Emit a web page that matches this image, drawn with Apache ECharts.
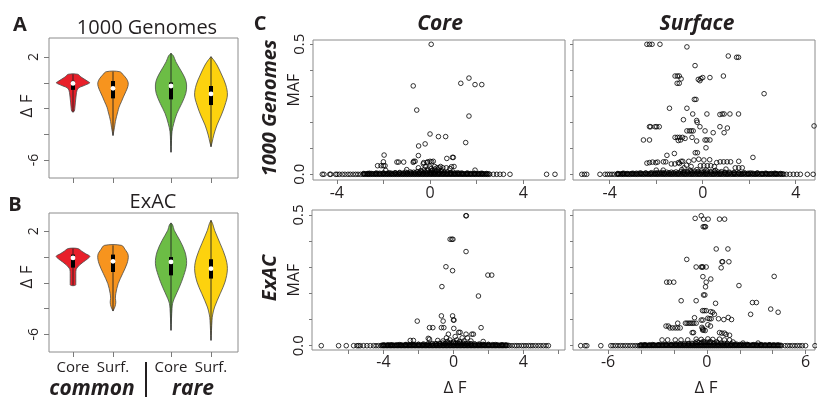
<!DOCTYPE html>
<html><head><meta charset="utf-8">
<script src="https://cdn.jsdelivr.net/npm/echarts@6/dist/echarts.min.js"></script>
<style>html,body{margin:0;padding:0;background:#fff}#c{width:817px;height:397px}</style>
</head><body><div id="c"></div>
<script>
// ---------- Violin data (ΔF value, half-width of density) ----------
const violinCats = ['Core', 'Surf.', 'Core', 'Surf.'];
const aCoreCommon = [[0.66,0.12],[0.45,0.2],[0.25,0.3],[0.05,0.4],[0.0,0.42],[-0.12,0.35],[-0.25,0.25],[-0.4,0.14],[-0.6,0.1],[-0.95,0.08],[-1.5,0.06],[-2.0,0.045],[-2.22,0.03],[-2.28,0]];
const aSurfCommon = [[0.86,0.17],[0.6,0.26],[0.3,0.34],[0.0,0.38],[-0.3,0.37],[-0.69,0.32],[-1.1,0.26],[-1.47,0.21],[-1.9,0.15],[-2.25,0.12],[-2.6,0.09],[-3.0,0.06],[-3.5,0.035],[-4.1,0]];
const aCoreRare = [[2.29,0],[2.1,0.06],[1.64,0.12],[0.99,0.24],[0.35,0.35],[-0.17,0.39],[-0.82,0.37],[-1.6,0.27],[-2.37,0.15],[-3.15,0.07],[-3.8,0.025],[-4.5,0.012],[-5.4,0]];
const aSurfRare = [[2.03,0],[1.8,0.06],[1.38,0.15],[0.6,0.27],[-0.17,0.37],[-0.95,0.41],[-1.73,0.35],[-2.5,0.26],[-3.28,0.15],[-4.06,0.07],[-4.6,0.03],[-4.97,0]];
const bCoreCommon = [[0.66,0.12],[0.45,0.22],[0.25,0.32],[0.06,0.42],[-0.15,0.36],[-0.38,0.26],[-0.6,0.17],[-0.77,0.12],[-0.95,0.08],[-1.3,0.07],[-2.0,0.07],[-2.19,0.06]];
const bSurfCommon = [[0.91,0.21],[0.6,0.3],[0.14,0.38],[-0.51,0.35],[-1.29,0.24],[-2.06,0.13],[-2.84,0.07],[-3.2,0.06],[-3.5,0.07],[-3.85,0.05],[-4.19,0]];
const bCoreRare = [[2.65,0],[2.5,0.04],[2.08,0.08],[1.3,0.22],[0.39,0.35],[-0.51,0.39],[-1.42,0.32],[-2.33,0.21],[-3.23,0.08],[-3.6,0.04],[-4.0,0.025],[-4.8,0.012],[-5.69,0]];
const bSurfRare = [[2.85,0],[2.6,0.04],[2.08,0.09],[1.04,0.23],[0.0,0.36],[-0.9,0.41],[-1.94,0.35],[-2.84,0.23],[-3.88,0.09],[-4.5,0.04],[-4.91,0.025],[-5.7,0.012],[-6.47,0]];
// [lower quartile, median, upper quartile]
const aBoxes = [[-0.55,-0.05,0.15],[-1.21,-0.43,0.14],[-1.29,-0.25,0.03],[-1.73,-0.87,-0.25]];
const bBoxes = [[-0.82,-0.07,0.19],[-1.16,-0.33,0.19],[-1.42,-0.38,0.0],[-1.67,-0.9,-0.17]];

// ---------- Scatter data ----------
// ΔF of variants at MAF = 0
const coreTopZero = [-4.62,-4.55,-4.3,-4.26,-4.05,-3.99,-3.89,-3.76,-3.65,-3.52,-3.42,-3.3,-3.19,-3.09,-2.98,-2.88,-2.8,-2.71,-2.63,-2.55,-2.46,-2.37,-2.29,-2.2,-2.12,-2.03,-1.95,-1.86,-1.78,-1.69,-1.61,-1.52,-1.44,-1.35,-1.27,-1.18,-1.1,-1.01,-0.93,-0.84,-0.76,-0.67,-0.59,-0.5,-0.42,-0.33,-0.25,-0.16,-0.08,0.01,0.09,0.18,0.26,0.35,0.43,0.52,0.6,0.69,0.77,0.86,0.94,1.03,1.11,1.2,1.28,1.37,1.45,1.54,1.62,1.71,1.79,1.88,1.96,2.05,2.13,2.22,2.3,2.39,2.47,2.56,2.72,2.86,3.0,3.15,3.43,5.0,5.36];
const surfTopZero = [-5.2,-5.09,-4.99,-4.42,-4.2,-4.1,-4.0,-3.9,-3.8,-3.69,-3.61,-3.5,-3.41,-3.3,-3.2,-3.11,-3.0,-2.9,-2.81,-2.7,-2.6,-2.51,-2.4,-2.3,-2.21,-2.1,-2.0,-1.91,-1.8,-1.7,-1.61,-1.5,-1.4,-1.31,-1.2,-1.1,-1.01,-0.9,-0.8,-0.71,-0.6,-0.5,-0.41,-0.3,-0.2,-0.11,0.0,0.1,0.19,0.3,0.4,0.49,0.6,0.7,0.79,0.9,1.0,1.09,1.2,1.3,1.39,1.5,1.6,1.69,1.8,1.9,1.99,2.1,2.2,2.29,2.4,2.5,2.59,2.7,2.8,2.89,3.0,3.1,3.19,3.3,3.4,3.49,3.6,3.75,3.9,4.05,4.2,4.5,4.75];
const coreBotZero = [-7.56,-6.57,-6.13,-5.71,-5.52,-5.43,-5.33,-5.14,-4.95,-4.76,-4.57,-4.43,-4.29,-4.15,-4.04,-3.95,-3.84,-3.75,-3.64,-3.55,-3.44,-3.35,-3.24,-3.15,-3.04,-2.95,-2.84,-2.75,-2.64,-2.55,-2.44,-2.35,-2.24,-2.15,-2.04,-1.95,-1.84,-1.75,-1.64,-1.55,-1.44,-1.35,-1.24,-1.15,-1.04,-0.95,-0.84,-0.75,-0.64,-0.55,-0.44,-0.35,-0.24,-0.15,-0.04,0.05,0.16,0.25,0.36,0.45,0.56,0.65,0.76,0.85,0.96,1.05,1.16,1.25,1.36,1.45,1.56,1.65,1.76,1.85,1.96,2.05,2.16,2.25,2.36,2.45,2.56,2.65,2.76,2.85,2.96,3.05,3.2,3.35,3.5,3.62,3.75,3.9,4.02,4.15,4.3,4.42,4.55,4.7,4.85,5.0,5.15,5.3,5.43];
const surfBotZero = [-7.66,-7.4,-7.29,-6.44,-5.83,-5.7,-5.55,-5.4,-5.25,-5.1,-4.95,-4.8,-4.65,-4.5,-4.35,-4.2,-4.1,-3.98,-3.86,-3.74,-3.62,-3.5,-3.38,-3.26,-3.14,-3.02,-2.9,-2.78,-2.66,-2.54,-2.42,-2.3,-2.18,-2.06,-1.94,-1.82,-1.7,-1.58,-1.46,-1.34,-1.22,-1.1,-0.98,-0.86,-0.74,-0.62,-0.5,-0.38,-0.26,-0.14,-0.02,0.1,0.22,0.34,0.46,0.58,0.7,0.82,0.94,1.06,1.18,1.3,1.42,1.54,1.66,1.78,1.9,2.02,2.14,2.26,2.38,2.5,2.62,2.74,2.86,2.98,3.1,3.22,3.34,3.46,3.58,3.7,3.82,3.94,4.06,4.18,4.3,4.42,4.54,4.75,4.9,5.05,5.2,5.35,5.5,5.65,5.8,6.0,6.57];
// ΔF of variants at a tiny MAF (about 0.0015)
const tinyMAF = 0.0015;
const coreTopTiny = [-2.84,-2.75,-2.67,-2.59,-2.5,-2.41,-2.33,-2.24,-2.16,-2.07,-1.99,-1.9,-1.82,-1.73,-1.65,-1.56,-1.48,-1.39,-1.31,-1.22,-1.14,-1.05,-0.97,-0.88,-0.8,-0.71,-0.63,-0.54,-0.46,-0.37,-0.29,-0.2,-0.12,-0.03,0.05,0.14,0.22,0.31,0.39,0.48,0.56,0.65,0.73,0.82,0.9,0.99,1.07,1.16,1.24,1.33,1.41,1.5,1.58,1.67,1.75,1.84,1.92,2.01,2.09,2.18,2.26,2.35,2.43,2.52];
const surfTopTiny = [-3.65,-3.55,-3.45,-3.36,-3.25,-3.15,-3.06,-2.95,-2.85,-2.76,-2.65,-2.55,-2.46,-2.35,-2.25,-2.16,-2.05,-1.95,-1.86,-1.75,-1.65,-1.56,-1.45,-1.35,-1.26,-1.15,-1.05,-0.96,-0.85,-0.75,-0.66,-0.55,-0.45,-0.36,-0.25,-0.15,-0.06,0.05,0.15,0.24,0.35,0.45,0.54,0.65,0.75,0.84,0.95,1.05,1.14,1.25,1.35,1.44,1.55,1.65,1.74,1.85,1.95,2.04,2.15,2.25,2.34,2.45,2.55,2.64,2.75,2.85,2.94,3.05,3.15,3.24,3.35,3.45];
const coreBotTiny = [-4.1,-3.99,-3.9,-3.79,-3.7,-3.59,-3.5,-3.39,-3.3,-3.19,-3.1,-2.99,-2.9,-2.79,-2.7,-2.59,-2.5,-2.39,-2.3,-2.19,-2.1,-1.99,-1.9,-1.79,-1.7,-1.59,-1.5,-1.39,-1.3,-1.19,-1.1,-0.99,-0.9,-0.79,-0.7,-0.59,-0.5,-0.39,-0.3,-0.19,-0.1,0.0,0.1,0.21,0.3,0.41,0.5,0.61,0.7,0.81,0.9,1.01,1.1,1.21,1.3,1.41,1.5,1.61,1.7,1.81,1.9,2.01,2.1,2.21,2.3,2.41,2.5,2.61,2.7,2.81,2.9,3.0,3.12];
const surfBotTiny = [-4.04,-3.92,-3.8,-3.68,-3.56,-3.44,-3.32,-3.2,-3.08,-2.96,-2.84,-2.72,-2.6,-2.48,-2.36,-2.24,-2.12,-2.0,-1.88,-1.76,-1.64,-1.52,-1.4,-1.28,-1.16,-1.04,-0.92,-0.8,-0.68,-0.56,-0.44,-0.32,-0.2,-0.08,0.04,0.16,0.28,0.4,0.52,0.64,0.76,0.88,1.0,1.12,1.24,1.36,1.48,1.6,1.72,1.84,1.96,2.08,2.2,2.32,2.44,2.56,2.68,2.8,2.92,3.04,3.16,3.28,3.4,3.52,3.64,3.76,3.88,4.0,4.12,4.24,4.36,4.48];
// [ΔF, MAF] of low-frequency variants
const coreTopLow = [[-2.84,0.003],[-2.67,0.003],[-2.5,0.003],[-2.33,0.003],[-2.16,0.004],[-1.99,0.004],[-1.82,0.004],[-1.65,0.004],[-1.48,0.005],[-1.31,0.005],[-1.14,0.005],[-0.97,0.006],[-0.8,0.006],[-0.63,0.006],[-0.46,0.006],[-0.29,0.006],[-0.12,0.006],[0.05,0.005],[0.22,0.006],[0.39,0.005],[0.56,0.005],[0.73,0.004],[0.9,0.004],[1.07,0.004],[1.24,0.004],[1.41,0.003],[1.58,0.003],[1.75,0.003],[1.92,0.003],[2.09,0.003],[2.26,0.003],[2.43,0.003],[-2.6,0.004],[-2.3,0.005],[-2.0,0.005],[-1.75,0.006],[-1.5,0.006],[-1.3,0.007],[-1.05,0.008],[-0.85,0.009],[-0.7,0.008],[-0.55,0.01],[-0.45,0.007],[-0.35,0.011],[-0.2,0.009],[-0.12,0.013],[0.0,0.008],[0.08,0.012],[0.15,0.006],[0.25,0.011],[0.4,0.008],[0.48,0.01],[0.62,0.007],[0.75,0.009],[0.88,0.006],[1.0,0.008],[1.18,0.006],[1.35,0.005],[1.6,0.005],[1.9,0.004],[2.2,0.004]];
const surfTopLow = [[-3.65,0.003],[-3.45,0.003],[-3.25,0.003],[-3.05,0.003],[-2.85,0.004],[-2.65,0.004],[-2.45,0.004],[-2.25,0.004],[-2.05,0.005],[-1.85,0.005],[-1.65,0.005],[-1.45,0.006],[-1.25,0.006],[-1.05,0.006],[-0.85,0.007],[-0.65,0.007],[-0.45,0.007],[-0.25,0.007],[-0.05,0.007],[0.15,0.007],[0.35,0.007],[0.55,0.006],[0.75,0.006],[0.95,0.006],[1.15,0.005],[1.35,0.005],[1.55,0.005],[1.75,0.004],[1.95,0.004],[2.15,0.004],[2.35,0.004],[2.55,0.003],[2.75,0.003],[2.95,0.003],[3.15,0.003],[3.35,0.003],[-3.4,0.004],[-3.0,0.004],[-2.7,0.005],[-2.45,0.005],[-2.2,0.006],[-1.95,0.006],[-1.75,0.007],[-1.55,0.008],[-1.35,0.008],[-1.15,0.009],[-0.95,0.01],[-0.8,0.009],[-0.65,0.011],[-0.5,0.01],[-0.35,0.012],[-0.2,0.011],[-0.05,0.013],[0.05,0.009],[0.2,0.012],[0.35,0.01],[0.5,0.011],[0.65,0.009],[0.8,0.01],[0.95,0.008],[1.15,0.008],[1.35,0.007],[1.55,0.006],[1.8,0.006],[2.05,0.005],[2.35,0.005],[2.7,0.004],[3.1,0.004]];
const coreBotLow = [[-4.0,0.003],[-3.75,0.003],[-3.5,0.003],[-3.25,0.003],[-3.0,0.003],[-2.75,0.004],[-2.5,0.004],[-2.25,0.004],[-2.0,0.005],[-1.75,0.005],[-1.5,0.005],[-1.25,0.006],[-1.0,0.006],[-0.75,0.007],[-0.5,0.007],[-0.25,0.007],[0.0,0.007],[0.25,0.007],[0.5,0.007],[0.75,0.006],[1.0,0.006],[1.25,0.005],[1.5,0.005],[1.75,0.004],[2.0,0.004],[2.25,0.004],[2.5,0.003],[2.75,0.003],[3.0,0.003],[-3.6,0.003],[-3.1,0.004],[-2.7,0.004],[-2.3,0.005],[-2.0,0.005],[-1.7,0.006],[-1.45,0.007],[-1.2,0.008],[-1.0,0.008],[-0.8,0.009],[-0.6,0.01],[-0.45,0.009],[-0.3,0.011],[-0.15,0.01],[0.0,0.012],[0.12,0.009],[0.25,0.011],[0.4,0.009],[0.55,0.01],[0.7,0.008],[0.85,0.009],[1.0,0.007],[1.2,0.007],[1.45,0.006],[1.7,0.005],[2.0,0.005],[2.4,0.004],[2.8,0.003]];
const surfBotLow = [[-4.0,0.003],[-3.74,0.003],[-3.48,0.003],[-3.22,0.003],[-2.96,0.003],[-2.7,0.004],[-2.44,0.004],[-2.18,0.004],[-1.92,0.005],[-1.66,0.005],[-1.4,0.005],[-1.14,0.006],[-0.88,0.006],[-0.62,0.007],[-0.36,0.007],[-0.1,0.007],[0.16,0.007],[0.42,0.007],[0.68,0.006],[0.94,0.006],[1.2,0.005],[1.46,0.005],[1.72,0.005],[1.98,0.004],[2.24,0.004],[2.5,0.004],[2.76,0.003],[3.02,0.003],[3.28,0.003],[3.54,0.003],[3.8,0.003],[4.06,0.003],[4.32,0.003],[-3.8,0.003],[-3.3,0.004],[-2.9,0.004],[-2.5,0.005],[-2.15,0.005],[-1.85,0.006],[-1.6,0.007],[-1.35,0.008],[-1.1,0.008],[-0.9,0.009],[-0.7,0.01],[-0.5,0.011],[-0.32,0.012],[-0.15,0.011],[0.0,0.013],[0.15,0.011],[0.3,0.012],[0.48,0.01],[0.65,0.011],[0.85,0.009],[1.05,0.009],[1.25,0.008],[1.5,0.007],[1.8,0.006],[2.1,0.005],[2.45,0.005],[2.85,0.004],[3.3,0.004],[3.8,0.003]];
// [ΔF, MAF] of variants above the band
const coreTopPts = [[0.05,0.5],[-0.72,0.34],[1.32,0.35],[1.67,0.37],[1.93,0.345],[2.22,0.345],[-0.57,0.247],[1.67,0.224],[0.0,0.155],[0.36,0.145],[0.67,0.145],[-0.21,0.117],[-0.49,0.109],[1.53,0.122],[-1.97,0.074],[-0.5,0.072],[-2.0,0.048],[-2.25,0.033],[-2.1,0.033],[-2.0,0.033],[-1.93,0.033],[-1.42,0.047],[-1.35,0.047],[-1.13,0.047],[-0.7,0.05],[-0.64,0.05],[-0.72,0.046],[-0.27,0.045],[-0.13,0.045],[0.0,0.05],[0.14,0.05],[-0.1,0.048],[0.07,0.048],[0.72,0.061],[1.0,0.065],[0.96,0.065],[1.03,0.03],[0.92,0.029],[-0.29,0.04],[0.4,0.025],[0.55,0.025],[0.7,0.025],[1.93,0.016],[-0.2,0.03],[0.0,0.028],[0.2,0.03],[0.3,0.025],[0.45,0.03],[0.85,0.022],[-0.5,0.025],[-1.0,0.018],[-1.9,0.015],[-0.4,0.014],[-0.25,0.018],[-0.1,0.02],[0.05,0.022],[0.2,0.02],[0.35,0.016],[0.5,0.014],[0.1,0.016]];
const surfTopPts = [[-2.4,0.5],[-2.29,0.5],[-2.18,0.5],[-1.84,0.5],[-0.68,0.49],[1.1,0.455],[1.46,0.45],[1.54,0.45],[-0.33,0.418],[-1.19,0.378],[-1.09,0.378],[-1.01,0.378],[-1.1,0.35],[-1.01,0.35],[-0.93,0.367],[-0.19,0.365],[-0.08,0.368],[0.0,0.372],[-0.12,0.36],[0.31,0.372],[0.89,0.378],[-0.36,0.288],[-0.29,0.288],[2.64,0.31],[-1.43,0.254],[-0.68,0.254],[-0.43,0.232],[0.18,0.232],[0.74,0.23],[0.84,0.232],[0.92,0.232],[1.17,0.232],[1.54,0.232],[-0.83,0.21],[-0.26,0.207],[-0.24,0.2],[-2.29,0.183],[-2.24,0.183],[-2.05,0.183],[-1.98,0.183],[-1.87,0.183],[-0.12,0.183],[0.74,0.183],[1.06,0.178],[4.79,0.186],[-0.68,0.167],[-0.57,0.167],[-0.49,0.167],[-0.41,0.167],[-1.19,0.142],[-1.09,0.142],[-0.99,0.142],[-0.87,0.142],[-0.76,0.138],[-1.05,0.13],[-0.95,0.132],[-0.46,0.142],[0.1,0.167],[0.45,0.16],[0.92,0.16],[-2.55,0.132],[-2.29,0.132],[-0.26,0.128],[0.1,0.132],[0.18,0.132],[0.31,0.132],[-0.32,0.083],[-0.23,0.083],[0.14,0.102],[-1.54,0.073],[-1.22,0.08],[2.16,0.065],[-2.4,0.043],[-2.29,0.045],[-2.16,0.047],[-2.02,0.045],[-1.94,0.047],[-1.69,0.048],[-1.59,0.048],[-0.93,0.05],[-0.86,0.05],[-0.6,0.05],[-0.38,0.055],[-0.17,0.058],[0.05,0.055],[0.3,0.056],[-0.1,0.033],[0.05,0.033],[0.2,0.033],[0.35,0.033],[0.6,0.045],[0.75,0.048],[0.9,0.048],[1.05,0.048],[1.2,0.048],[1.55,0.05],[1.4,0.025],[1.55,0.025],[1.7,0.025],[-2.0,0.016],[-1.7,0.016],[-0.9,0.018],[-1.2,0.04],[-1.35,0.04],[-0.7,0.035],[-0.5,0.03],[0.5,0.03],[1.0,0.02],[-0.8,0.025],[-1.05,0.045],[-1.0,0.042],[-0.25,0.018],[0.15,0.016],[0.55,0.015],[-0.55,0.016]];
const coreBotPts = [[0.71,0.497],[0.74,0.497],[-0.19,0.407],[-0.09,0.407],[-0.03,0.407],[0.72,0.36],[-0.43,0.302],[-0.05,0.287],[1.97,0.27],[2.19,0.27],[-0.66,0.226],[1.43,0.19],[-0.69,0.114],[-0.05,0.114],[-0.59,0.094],[0.0,0.098],[0.03,0.098],[-2.07,0.094],[-1.37,0.069],[-1.18,0.069],[-0.69,0.069],[-0.55,0.069],[1.58,0.069],[0.02,0.066],[-0.29,0.044],[0.3,0.051],[0.38,0.051],[0.72,0.044],[1.05,0.044],[1.14,0.044],[-1.44,0.028],[-1.37,0.025],[-2.47,0.02],[-2.29,0.02],[-0.9,0.02],[-0.6,0.018],[-0.2,0.022],[0.2,0.022],[0.6,0.018],[1.0,0.018],[1.7,0.016],[-0.4,0.03],[0.1,0.035],[0.5,0.03],[0.8,0.03],[0.0,0.015],[-0.35,0.016],[0.35,0.016]];
const surfBotPts = [[-0.34,0.497],[-0.71,0.487],[-0.2,0.484],[0.08,0.484],[0.77,0.484],[1.08,0.484],[-0.22,0.455],[-0.14,0.455],[-0.08,0.455],[0.57,0.37],[1.28,0.37],[-1.22,0.33],[0.92,0.321],[0.96,0.321],[1.34,0.321],[-0.65,0.301],[-0.34,0.301],[-0.28,0.301],[-0.24,0.301],[-0.04,0.301],[0.87,0.298],[-0.24,0.264],[0.24,0.255],[-0.04,0.243],[-2.44,0.243],[-2.27,0.243],[-2.01,0.243],[1.95,0.23],[-0.08,0.225],[-0.2,0.194],[-0.12,0.194],[-1.56,0.172],[-0.65,0.172],[0.53,0.162],[2.77,0.165],[3.01,0.165],[3.88,0.14],[4.33,0.128],[4.09,0.265],[2.66,0.12],[-0.26,0.134],[-0.16,0.134],[-0.04,0.134],[0.24,0.13],[0.36,0.128],[-0.75,0.107],[-0.34,0.098],[-0.24,0.098],[0.06,0.105],[0.16,0.103],[0.26,0.103],[0.71,0.103],[1.03,0.1],[1.3,0.108],[1.5,0.1],[0.46,0.12],[-1.77,0.086],[-1.3,0.086],[-1.2,0.086],[-1.09,0.086],[-0.99,0.086],[-0.89,0.086],[-0.79,0.086],[-0.65,0.086],[-2.48,0.075],[-2.34,0.075],[-2.24,0.068],[-2.08,0.068],[-1.92,0.068],[-1.77,0.068],[-1.62,0.068],[0.06,0.08],[0.22,0.075],[0.77,0.05],[0.91,0.048],[1.07,0.048],[1.17,0.043],[1.38,0.04],[-0.89,0.05],[-0.81,0.05],[-0.26,0.06],[-0.2,0.06],[-0.1,0.058],[-2.72,0.022],[-2.38,0.022],[-1.92,0.022],[-1.57,0.022],[-1.16,0.022],[-0.65,0.025],[-0.34,0.024],[0.06,0.026],[0.36,0.024],[0.77,0.025],[1.07,0.022],[1.38,0.022],[1.59,0.014],[2.2,0.01],[3.11,0.01],[-0.3,0.07],[-0.25,0.065],[-0.2,0.016],[0.2,0.016],[0.6,0.015],[-0.6,0.015]];

// ---------- Chart ----------
const FONT = '"Open Sans", "Noto Sans", sans-serif';
const TXT = '#231f20';
const chart = echarts.init(document.getElementById('c'));
const violinPos = [1, 2, 3.45, 4.45];
const violinFill = ['#e8202a', '#f7941e', '#6cbd45', '#fdd20e'];

function violinSeries(gi, profiles, boxes) {
  return {
    type: 'custom', xAxisIndex: gi, yAxisIndex: gi, silent: true,
    data: profiles.map((p, i) => [violinPos[i], i, 0]),
    encode: { x: 0, y: 2 },
    renderItem: function (params, api) {
      const pos = api.value(0), i = api.value(1);
      const prof = profiles[i], box = boxes[i];
      const right = prof.map(d => api.coord([pos + d[1], d[0]]));
      const left = prof.slice().reverse().map(d => api.coord([pos - d[1], d[0]]));
      const top = api.coord([pos, prof[0][0]]);
      const bot = api.coord([pos, prof[prof.length - 1][0]]);
      const q1 = api.coord([pos, box[0]]), med = api.coord([pos, box[1]]), q3 = api.coord([pos, box[2]]);
      return {
        type: 'group', children: [
          { type: 'polygon', shape: { points: right.concat(left), smooth: 0.35 },
            style: { fill: violinFill[i], stroke: '#4a4a4a', lineWidth: 0.8 } },
          { type: 'line', shape: { x1: top[0], y1: top[1], x2: bot[0], y2: bot[1] },
            style: { stroke: '#222', lineWidth: 0.9 } },
          { type: 'rect', shape: { x: q3[0] - 2, y: q3[1], width: 4, height: q1[1] - q3[1] },
            style: { fill: '#000' } },
          { type: 'circle', shape: { cx: med[0], cy: med[1], r: 2.4 }, style: { fill: '#fff' } }
        ]
      };
    }
  };
}

function scatterSeries(gi, zeros, tiny, low, pts) {
  return {
    type: 'scatter', xAxisIndex: gi, yAxisIndex: gi, silent: true, clip: false,
    symbol: 'circle', symbolSize: 4.6,
    itemStyle: { color: 'rgba(255,255,255,0)', borderColor: '#000', borderWidth: 1 },
    data: zeros.map(x => [x, 0]).concat(tiny.map(x => [x, tinyMAF]), low, pts)
  };
}

const gridBase = { show: true, borderColor: '#8c8c8c', borderWidth: 1, backgroundColor: 'transparent' };
const grids = [
  Object.assign({ left: 49, top: 38, width: 189, height: 140 }, gridBase),
  Object.assign({ left: 49, top: 213, width: 189, height: 139 }, gridBase),
  Object.assign({ left: 313, top: 40, width: 252, height: 140 }, gridBase),
  Object.assign({ left: 573, top: 40, width: 242, height: 140 }, gridBase),
  Object.assign({ left: 312, top: 210, width: 253, height: 140 }, gridBase),
  Object.assign({ left: 573, top: 210, width: 242, height: 140 }, gridBase)
];

const tickStyle = { color: '#7a7a7a', width: 1 };
function xAx(gi, min, max, ticks, labels, margin, fmt, fs, tlen) {
  return {
    gridIndex: gi, type: 'value', min: min, max: max, position: 'bottom',
    axisLine: { show: false, onZero: false }, splitLine: { show: false },
    axisTick: { show: true, customValues: ticks, length: tlen, lineStyle: tickStyle },
    axisLabel: labels ? { show: true, customValues: labels, margin: margin, formatter: fmt,
      fontFamily: FONT, fontSize: fs, color: TXT } : { show: false }
  };
}
function yAx(gi, min, max, ticks, labels, margin, fmt, fs, tlen) {
  return {
    gridIndex: gi, type: 'value', min: min, max: max, position: 'left',
    axisLine: { show: false, onZero: false }, splitLine: { show: false },
    axisTick: { show: true, customValues: ticks, length: tlen, lineStyle: tickStyle },
    axisLabel: labels ? { show: true, customValues: labels, margin: margin, formatter: fmt, rotate: 90,
      fontFamily: FONT, fontSize: fs, color: TXT } : { show: false }
  };
}
const catFmt = v => { const k = violinPos.findIndex(p => Math.abs(p - v) < 1e-6); return k >= 0 ? violinCats[k] : ''; };
const intFmt = v => String(Math.round(v));
const decFmt = v => v.toFixed(1);
const mafTicks = [0, 0.1, 0.2, 0.3, 0.4, 0.5];

const xAxes = [
  xAx(0, 0.4, 5.125, violinPos, null, 0, null, 15, 5),
  xAx(1, 0.4, 5.125, violinPos, violinPos, 8, catFmt, 15, 5),
  xAx(2, -5.02, 5.79, [-4, -2, 0, 2, 4], [-4, 0, 4], 5, intFmt, 16, 4),
  xAx(3, -5.58, 4.83, [-4, -2, 0, 2, 4], [-4, 0, 4], 5, intFmt, 16, 4),
  xAx(4, -8.09, 6.38, [-6, -4, -2, 0, 2, 4, 6], [-4, 0, 4], 4, intFmt, 16, 4),
  xAx(5, -8.13, 6.57, [-6, -4, -2, 0, 2, 4, 6], [-6, 0, 6], 4, intFmt, 16, 4)
];
const yAxes = [
  yAx(0, -7.4, 3.48, [-6, -4, -2, 0, 2], [-6, 2], 8, intFmt, 14, 5),
  yAx(1, -7.37, 3.42, [-6, -4, -2, 0, 2], [-6, 2], 8, intFmt, 14, 5),
  yAx(2, -0.0219, 0.5165, mafTicks, [0, 0.5], 6, decFmt, 15, 3),
  yAx(3, -0.0219, 0.5165, mafTicks, null, 0, null, 15, 3),
  yAx(4, -0.0165, 0.519, mafTicks, [0, 0.5], 6, decFmt, 15, 3),
  yAx(5, -0.0165, 0.519, mafTicks, null, 0, null, 15, 3)
];

function txt(t, x, y, font, rot) {
  return { type: 'text', x: x, y: y, rotation: rot ? Math.PI / 2 : 0, silent: true,
    style: { text: t, x: 0, y: 0, font: font, fill: TXT, align: 'center', verticalAlign: 'middle' } };
}
const BOLD = 'bold 20px ' + FONT, BI = 'italic bold 21px ' + FONT, BIR = 'italic bold 20px ' + FONT,
      REG = '20px ' + FONT, MID = '17px ' + FONT, MAF = '16px ' + FONT;
const graphics = [
  txt('A', 20, 25, BOLD), txt('B', 15, 205, BOLD), txt('C', 260, 24, BOLD),
  txt('1000 Genomes', 147, 28, REG), txt('ExAC', 153, 202, REG),
  txt('Core', 440, 24, BI), txt('Surface', 697, 24, BI),
  txt('1000 Genomes', 270, 108, BIR, true), txt('ExAC', 270, 278, BIR, true),
  txt('MAF', 294, 90, MAF, true), txt('MAF', 294, 280, MAF, true),
  txt('Δ F', 455, 388, MID), txt('Δ F', 706, 388, MID),
  txt('Δ F', 27, 106, MID, true), txt('Δ F', 27, 277, MID, true),
  txt('common', 92, 389, BI), txt('rare', 193, 389, BI),
  { type: 'line', silent: true, shape: { x1: 146, y1: 362, x2: 146, y2: 397 }, style: { stroke: '#231f20', lineWidth: 2 } }
];

chart.setOption({
  animation: false,
  backgroundColor: '#fff',
  grid: grids, xAxis: xAxes, yAxis: yAxes,
  series: [
    violinSeries(0, [aCoreCommon, aSurfCommon, aCoreRare, aSurfRare], aBoxes),
    violinSeries(1, [bCoreCommon, bSurfCommon, bCoreRare, bSurfRare], bBoxes),
    scatterSeries(2, coreTopZero, coreTopTiny, coreTopLow, coreTopPts),
    scatterSeries(3, surfTopZero, surfTopTiny, surfTopLow, surfTopPts),
    scatterSeries(4, coreBotZero, coreBotTiny, coreBotLow, coreBotPts),
    scatterSeries(5, surfBotZero, surfBotTiny, surfBotLow, surfBotPts)
  ],
  graphic: graphics
});
</script></body></html>
